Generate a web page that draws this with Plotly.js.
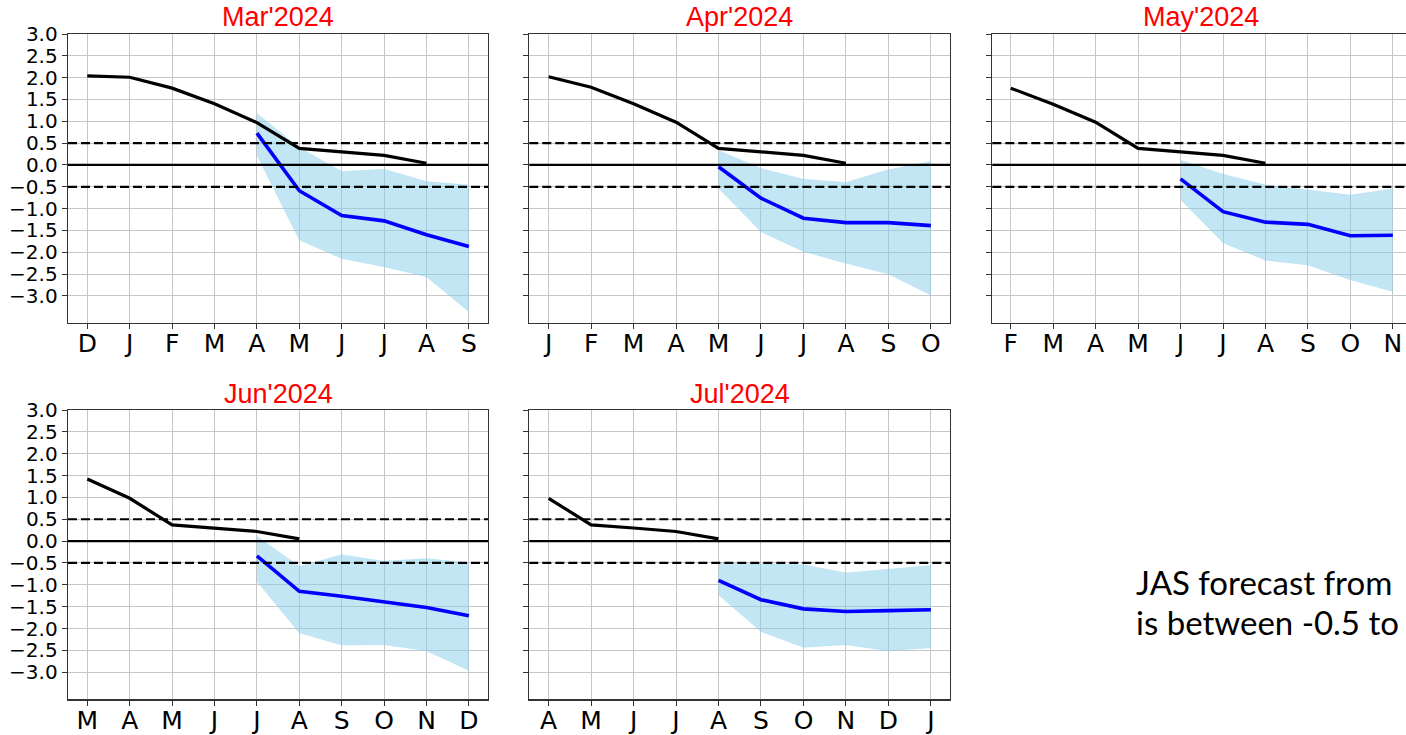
<!DOCTYPE html>
<html>
<head>
<meta charset="utf-8">
<script src="https://cdn.plot.ly/plotly-3.0.1.min.js"></script>
<style>
  html, body { margin: 0; padding: 0; background: #fff; }
  #chart { width: 1406px; height: 735px; }
</style>
</head>
<body>
<div id="chart"></div>
<script>
// ---------- data ----------
const titles = ["Mar'2024", "Apr'2024", "May'2024", "Jun'2024", "Jul'2024"];

const monthsMar = ['D','J','F','M','A','M','J','J','A','S'];
const obsMar  = [2.04, 2.01, 1.76, 1.40, 0.97, 0.38, 0.30, 0.22, 0.04, null];
const fcMar   = [null, null, null, null, 0.73, -0.59, -1.16, -1.28, -1.60, -1.87];
const hiMar   = [null, null, null, null, 1.18, 0.40, -0.15, -0.10, -0.38, -0.46];
const loMar   = [null, null, null, null, 0.23, -1.72, -2.14, -2.33, -2.56, -3.36];

const monthsApr = ['J','F','M','A','M','J','J','A','S','O'];
const obsApr  = [2.02, 1.78, 1.40, 0.98, 0.38, 0.30, 0.22, 0.04, null, null];
const fcApr   = [null, null, null, null, -0.04, -0.76, -1.22, -1.32, -1.32, -1.39];
const hiApr   = [null, null, null, null, 0.33, -0.08, -0.33, -0.40, -0.11, 0.08];
const loApr   = [null, null, null, null, -0.53, -1.53, -1.98, -2.25, -2.50, -2.98];

const monthsMay = ['F','M','A','M','J','J','A','S','O','N'];
const obsMay  = [1.76, 1.39, 0.98, 0.38, 0.30, 0.22, 0.04, null, null, null];
const fcMay   = [null, null, null, null, -0.32, -1.07, -1.31, -1.36, -1.62, -1.61];
const hiMay   = [null, null, null, null, 0.11, -0.21, -0.46, -0.57, -0.69, -0.55];
const loMay   = [null, null, null, null, -0.79, -1.78, -2.18, -2.29, -2.63, -2.90];

const monthsJun = ['M','A','M','J','J','A','S','O','N','D'];
const obsJun  = [1.42, 0.98, 0.37, 0.30, 0.22, 0.05, null, null, null, null];
const fcJun   = [null, null, null, null, -0.34, -1.15, -1.26, -1.39, -1.52, -1.71];
const hiJun   = [null, null, null, null, 0.11, -0.58, -0.31, -0.46, -0.40, -0.50];
const loJun   = [null, null, null, null, -0.92, -2.10, -2.38, -2.37, -2.51, -2.96];

const monthsJul = ['A','M','J','J','A','S','O','N','D','J'];
const obsJul  = [0.98, 0.37, 0.30, 0.22, 0.05, null, null, null, null, null];
const fcJul   = [null, null, null, null, -0.90, -1.34, -1.55, -1.61, -1.59, -1.57];
const hiJul   = [null, null, null, null, -0.50, -0.52, -0.54, -0.73, -0.65, -0.56];
const loJul   = [null, null, null, null, -1.23, -2.07, -2.43, -2.37, -2.51, -2.44];

const yTicks = [3.0, 2.5, 2.0, 1.5, 1.0, 0.5, 0.0, -0.5, -1.0, -1.5, -2.0, -2.5, -3.0];
const thresholds = [0.5, -0.5];
const zeroLine = 0;

const noteLine1 = 'JAS forecast from';
const noteLine2 = 'is between -0.5 to';

// ---------- layout geometry ----------
const W = 1406, H = 735;
const panels = [
  {months: monthsMar, obs: obsMar, fc: fcMar, hi: hiMar, lo: loMar, x: [68, 488],    y: [34, 323],  xr: [-0.455, 9.45], ylab: true},
  {months: monthsApr, obs: obsApr, fc: fcApr, hi: hiApr, lo: loApr, x: [529.3, 950], y: [34, 323],  xr: [-0.455, 9.45], ylab: false},
  {months: monthsMay, obs: obsMay, fc: fcMay, hi: hiMay, lo: loMay, x: [992.3, 1406],y: [34, 323],  xr: [-0.434, 9.31], ylab: false},
  {months: monthsJun, obs: obsJun, fc: fcJun, hi: hiJun, lo: loJun, x: [68, 488],    y: [410, 699.3], xr: [-0.455, 9.45], ylab: true},
  {months: monthsJul, obs: obsJul, fc: fcJul, hi: hiJul, lo: loJul, x: [529.3, 950], y: [410, 699.3], xr: [-0.455, 9.45], ylab: false}
];
const titleCenters = [278, 739.6, 1201, 278, 739.6];
const titleY = [17, 394];

function pts(arr) {
  const xs = [], ys = [];
  arr.forEach((v, i) => { if (v !== null) { xs.push(i); ys.push(v); } });
  return {x: xs, y: ys};
}

const data = [];
const layout = {
  width: W, height: H,
  margin: {l: 0, r: 0, t: 0, b: 0},
  paper_bgcolor: '#fff', plot_bgcolor: '#fff',
  showlegend: false,
  shapes: [], annotations: []
};

panels.forEach((p, k) => {
  const n = k + 1;
  const xa = n === 1 ? 'x' : 'x' + n;
  const ya = n === 1 ? 'y' : 'y' + n;
  const xKey = n === 1 ? 'xaxis' : 'xaxis' + n;
  const yKey = n === 1 ? 'yaxis' : 'yaxis' + n;

  const hi = pts(p.hi), lo = pts(p.lo), fc = pts(p.fc), ob = pts(p.obs);
  data.push({x: hi.x, y: hi.y, xaxis: xa, yaxis: ya, mode: 'lines',
             line: {width: 0.5, color: 'rgba(135,206,235,0.5)'}, hoverinfo: 'skip'});
  data.push({x: lo.x, y: lo.y, xaxis: xa, yaxis: ya, mode: 'lines', fill: 'tonexty',
             fillcolor: 'rgba(135,206,235,0.5)',
             line: {width: 0.5, color: 'rgba(135,206,235,0.5)'}, hoverinfo: 'skip'});
  data.push({x: ob.x, y: ob.y, xaxis: xa, yaxis: ya, mode: 'lines',
             line: {width: 3.2, color: '#000'}});
  data.push({x: fc.x, y: fc.y, xaxis: xa, yaxis: ya, mode: 'lines',
             line: {width: 3.6, color: '#0000ff'}});

  const tickIdx = p.months.map((m, i) => i);
  layout[xKey] = {
    domain: [p.x[0] / W, p.x[1] / W],
    range: p.xr, anchor: ya,
    tickmode: 'array', tickvals: tickIdx, ticktext: p.months,
    showgrid: true, gridcolor: '#c6c6c6', gridwidth: 1,
    showline: true, linecolor: '#333', linewidth: 1.3, mirror: true,
    ticks: 'outside', ticklen: 5, tickcolor: '#333', tickwidth: 1,
    ticklabelstandoff: -7,
    tickfont: {family: 'DejaVu Sans', size: 25, color: '#000'},
    zeroline: false, fixedrange: true
  };
  layout[yKey] = {
    domain: [1 - p.y[1] / H, 1 - p.y[0] / H],
    range: [-3.62, 3.0], anchor: xa,
    tickmode: 'array', tickvals: yTicks, tickformat: '.1f',
    showticklabels: p.ylab,
    showgrid: true, gridcolor: '#c6c6c6', gridwidth: 1,
    showline: true, linecolor: '#333', linewidth: 1.3, mirror: true,
    ticks: 'outside', ticklen: 5, tickcolor: '#333', tickwidth: 1,
    tickfont: {family: 'DejaVu Sans', size: 20, color: '#000'},
    zeroline: false, fixedrange: true
  };

  layout.shapes.push({type: 'line', xref: xa + ' domain', yref: ya, x0: 0, x1: 1,
    y0: zeroLine, y1: zeroLine, line: {color: '#000', width: 2.2}, layer: 'above'});
  thresholds.forEach(t => {
    layout.shapes.push({type: 'line', xref: xa + ' domain', yref: ya, x0: 0, x1: 1,
      y0: t, y1: t, line: {color: '#000', width: 2.2, dash: '9px,4px'}, layer: 'above'});
  });

  layout.annotations.push({
    text: titles[k], xref: 'paper', yref: 'paper',
    x: titleCenters[k] / W, y: 1 - titleY[k < 3 ? 0 : 1] / H,
    xanchor: 'center', yanchor: 'middle', showarrow: false,
    font: {family: 'Liberation Sans, Arial', size: 27, color: '#ff0000'}
  });
});

layout.annotations.push({
  text: noteLine1, xref: 'paper', yref: 'paper', x: 1134 / W, y: 1 - 582 / H,
  xanchor: 'left', yanchor: 'middle', showarrow: false,
  font: {family: 'Lato', size: 33, color: '#000'}
});
layout.annotations.push({
  text: noteLine2, xref: 'paper', yref: 'paper', x: 1134 / W, y: 1 - 622 / H,
  xanchor: 'left', yanchor: 'middle', showarrow: false,
  font: {family: 'Lato', size: 33, color: '#000'}
});

Plotly.newPlot('chart', data, layout, {staticPlot: true, displayModeBar: false});
</script>
</body>
</html>
